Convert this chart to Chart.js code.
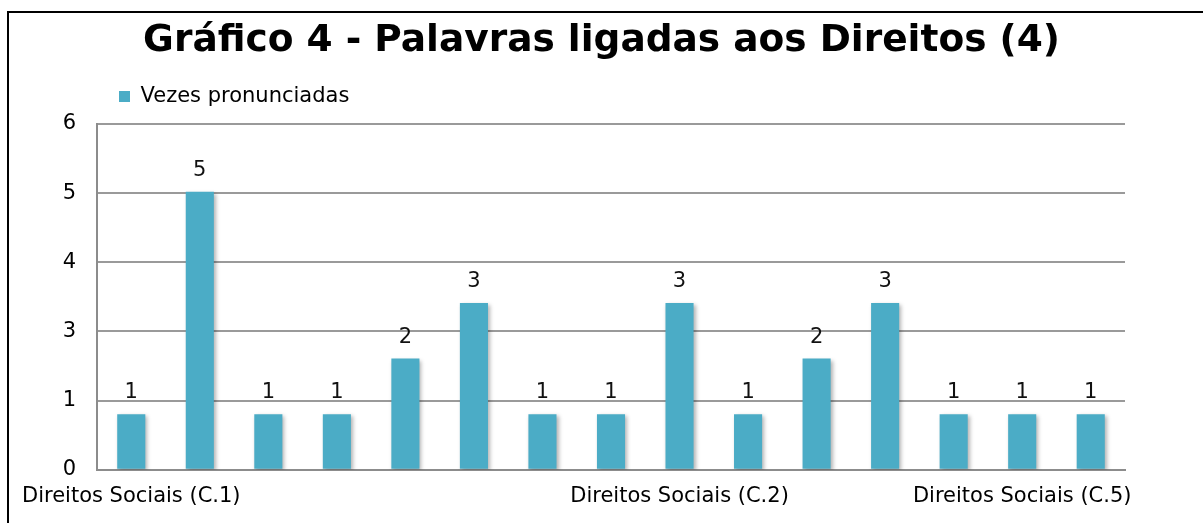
<!DOCTYPE html>
<html>
<head>
<meta charset="utf-8">
<script src="https://cdn.jsdelivr.net/npm/chart.js@4.4.1/dist/chart.umd.min.js"></script>
<style>
  html, body { margin: 0; padding: 0; background: #fff; }
  #frame { position: absolute; left: 7px; top: 11px; width: 1300px; height: 600px;
           border-left: 2px solid #000; border-top: 2px solid #000; }
  #wrap { position: absolute; left: 0; top: 0; width: 1203px; height: 523px; }
</style>
</head>
<body>
<div id="frame"></div>
<div id="wrap"><canvas id="chart"></canvas></div>
<script>
// Chart data
const categories = ['Direitos Sociais (C.1)', '', '', '', '', '', '', '',
    'Direitos Sociais (C.2)', '', '', '', '', 'Direitos Sociais (C.5)', ''];
const vezes = [1, 5, 1, 1, 2, 3, 1, 1, 3, 1, 2, 3, 1, 1, 1];
const yTickLabels = ['0', '1', '3', '4', '5', '6'];
const yMax = 6.22; // top gridline sits a bit above 6 units

const FONT = 'DejaVu Sans, Verdana, sans-serif';

// value labels above each bar
const valueLabels = {
    id: 'valueLabels',
    afterDatasetsDraw(chart) {
        const ctx = chart.ctx;
        const meta = chart.getDatasetMeta(0);
        ctx.save();
        ctx.font = '21px ' + FONT;
        ctx.fillStyle = '#111';
        ctx.textAlign = 'center';
        ctx.textBaseline = 'alphabetic';
        meta.data.forEach((bar, i) => {
            ctx.fillText(String(vezes[i]), bar.x, bar.y - 16);
        });
        ctx.restore();
    }
};

// soft shadow under bars
const barShadow = {
    id: 'barShadow',
    beforeDatasetDraw(chart) {
        const ctx = chart.ctx;
        ctx.save();
        ctx.shadowColor = 'rgba(0,0,0,0.3)';
        ctx.shadowBlur = 4;
        ctx.shadowOffsetX = 2;
        ctx.shadowOffsetY = 2;
    },
    afterDatasetDraw(chart) {
        chart.ctx.restore();
    }
};

const spacer = size => ({
    grid: { display: false, drawTicks: false },
    border: { display: false },
    ticks: { display: false },
    afterFit: scale => {
        if (scale.isHorizontal()) scale.height = size; else scale.width = size;
    }
});

new Chart(document.getElementById('chart'), {
    type: 'bar',
    data: {
        labels: categories,
        datasets: [{
            label: 'Vezes pronunciadas',
            data: vezes,
            xAxisID: 'x',
            yAxisID: 'y',
            backgroundColor: '#4BACC6',
            borderWidth: 0,
            barPercentage: 0.41,
            categoryPercentage: 1
        }]
    },
    options: {
        responsive: true, maintainAspectRatio: false, animation: false,
        layout: { padding: 0 },
        plugins: {
            title: {
                display: true,
                text: 'Gráfico 4 - Palavras ligadas aos Direitos (4)',
                color: '#000',
                font: { family: FONT, size: 37.5, weight: 'bold' },
                padding: { top: 19, bottom: 0 }
            },
            legend: {
                position: 'top', align: 'start', fullSize: false,
                labels: {
                    color: '#000', boxWidth: 11, boxHeight: 11, padding: 22,
                    font: { family: FONT, size: 21 }
                }
            },
            tooltip: { enabled: false }
        },
        scales: {
            x: {
                grid: { display: false, drawTicks: false },
                border: { display: true, color: '#8c8c8c', width: 2 },
                ticks: {
                    autoSkip: false, maxRotation: 0, padding: 14, color: '#000',
                    font: { family: FONT, size: 21 },
                    callback: (v, i) => categories[i]
                }
            },
            y: {
                min: 0, max: yMax,
                afterBuildTicks: scale => {
                    scale.ticks = yTickLabels.map((t, i) => ({ value: i * yMax / (yTickLabels.length - 1) }));
                },
                afterFit: scale => { scale.width = 97; },
                grid: { color: '#9a9a9a', lineWidth: 2, drawTicks: false },
                border: { display: true, color: '#8c8c8c', width: 2 },
                ticks: {
                    padding: 21, color: '#000',
                    font: { family: FONT, size: 21 },
                    callback: (v, i) => yTickLabels[i]
                }
            },
            // empty spacers around the plot
            gapTop: Object.assign({ type: 'category', position: 'top' }, spacer(7)),
            gapRight: Object.assign({ type: 'linear', position: 'right' }, spacer(78))
        }
    },
    plugins: [barShadow, valueLabels]
});
</script>
</body>
</html>
